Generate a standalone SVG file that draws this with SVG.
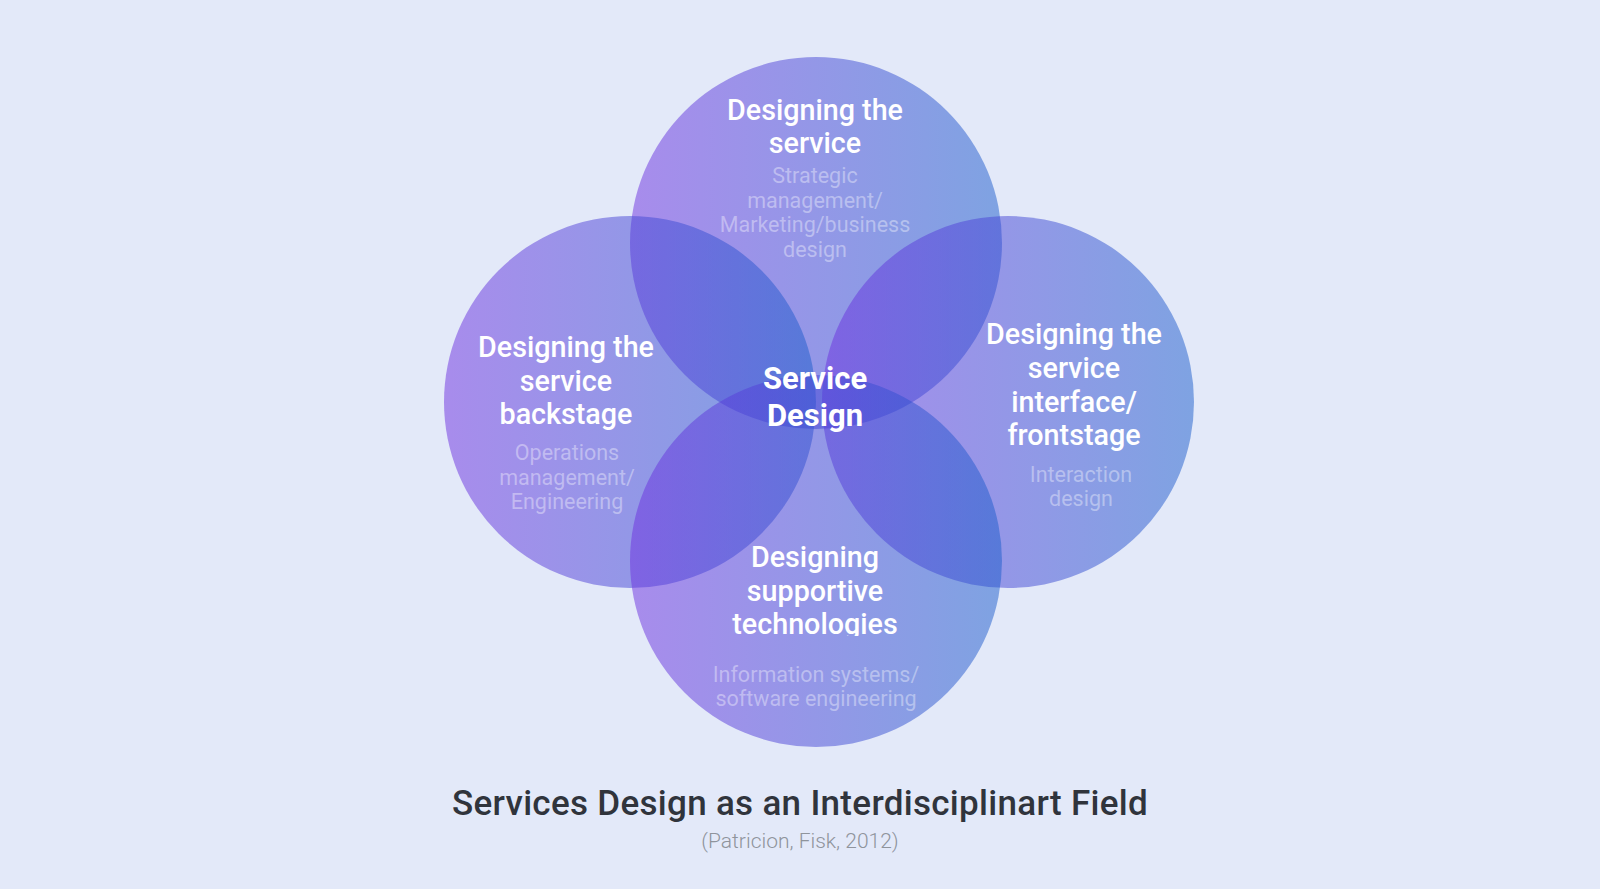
<svg xmlns="http://www.w3.org/2000/svg" width="1600" height="889" viewBox="0 0 1600 889">
<defs>
<linearGradient id="g" x1="0" y1="0" x2="1" y2="0">
<stop offset="0" stop-color="#6d2fdf"/>
<stop offset="1" stop-color="#1b5dcb"/>
</linearGradient>
<clipPath id="clipTech"><rect x="600" y="540" width="430" height="96"/></clipPath>
</defs>
<style>
.c{fill:url(#g);fill-opacity:0.5}
.h{font-family:Roboto,"Liberation Sans",sans-serif;font-weight:500;font-size:28.7px;fill:#ffffff;text-anchor:middle}
.s{font-family:Roboto,"Liberation Sans",sans-serif;font-weight:400;font-size:21.5px;fill:#ffffff;fill-opacity:0.38;text-anchor:middle}
.ctr{font-family:Roboto,"Liberation Sans",sans-serif;font-weight:700;font-size:31px;fill:#ffffff;text-anchor:middle}
</style>
<rect width="1600" height="889" fill="#e3e9f9"/>
<g id="circles">
<circle id="c-top" class="c" cx="816" cy="243" r="186"/>
<circle id="c-left" class="c" cx="630" cy="402" r="186"/>
<circle id="c-right" class="c" cx="1008" cy="402" r="186"/>
<circle id="c-bottom" class="c" cx="816" cy="561" r="186"/>
</g>
<g id="node-top">
<text class="h" x="815" y="120">Designing the</text>
<text class="h" x="815" y="153">service</text>
<text class="s" x="815" y="183">Strategic</text>
<text class="s" x="815" y="208">management/</text>
<text class="s" x="815" y="232">Marketing/business</text>
<text class="s" x="815" y="257">design</text>
</g>
<g id="node-left">
<text class="h" x="566" y="357">Designing the</text>
<text class="h" x="566" y="391">service</text>
<text class="h" x="566" y="424">backstage</text>
<text class="s" x="567" y="460">Operations</text>
<text class="s" x="567" y="485">management/</text>
<text class="s" x="567" y="509">Engineering</text>
</g>
<g id="node-right">
<text class="h" x="1074" y="344">Designing the</text>
<text class="h" x="1074" y="378">service</text>
<text class="h" x="1074" y="412">interface/</text>
<text class="h" x="1074" y="445">frontstage</text>
<text class="s" x="1081" y="482">Interaction</text>
<text class="s" x="1081" y="506">design</text>
</g>
<g id="node-bottom">
<text class="h" x="815" y="567">Designing</text>
<text class="h" x="815" y="601">supportive</text>
<text class="h" x="815" y="634" clip-path="url(#clipTech)">technologies</text>
<text class="s" x="816" y="682">Information systems/</text>
<text class="s" x="816" y="706">software engineering</text>
</g>
<g id="node-center">
<text class="ctr" x="815" y="389">Service</text>
<text class="ctr" x="815" y="426">Design</text>
</g>
<g id="connectors"/>
<g id="caption">
<text x="800" y="815" font-family="Roboto,'Liberation Sans',sans-serif" font-weight="500" font-size="35" letter-spacing="0.3" fill="#30343c" text-anchor="middle">Services Design as an Interdisciplinart Field</text>
<text x="800" y="848" font-family="Roboto,'Liberation Sans',sans-serif" font-weight="300" font-size="21" fill="#8f949c" text-anchor="middle">(Patricion, Fisk, 2012)</text>
</g>
</svg>
